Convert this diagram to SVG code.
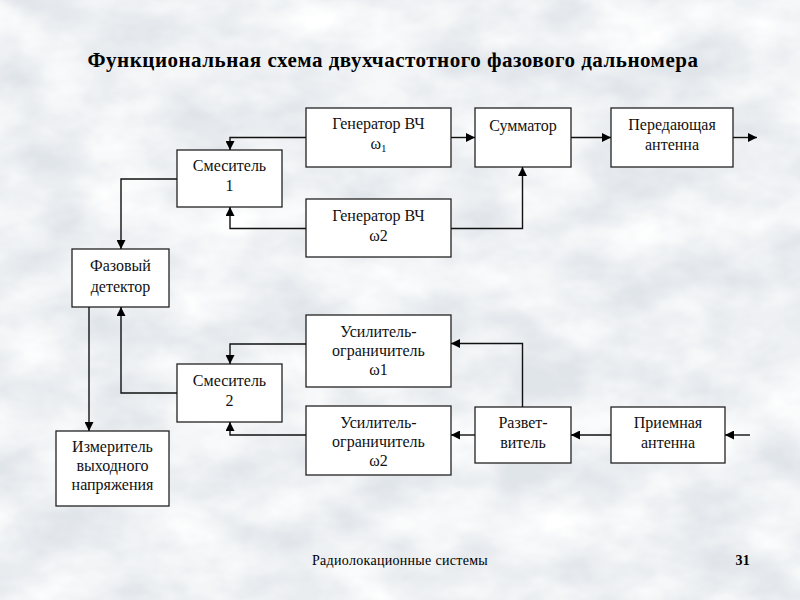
<svg xmlns="http://www.w3.org/2000/svg" width="800" height="600" viewBox="0 0 800 600" font-family="Liberation Serif, DejaVu Serif, serif">
<defs>
<filter id="clouds" x="0" y="0" width="100%" height="100%">
<feTurbulence type="fractalNoise" baseFrequency="0.012 0.02" numOctaves="4" seed="7" result="n"/>
<feColorMatrix in="n" type="matrix" values="0 0 0 0 1  0 0 0 0 1  0 0 0 0 1  0 0 0 -1.6 1.25" result="w"/>
<feComposite in="w" in2="SourceGraphic" operator="over"/>
</filter>
<marker id="arr" viewBox="0 0 10 10" refX="10" refY="5" markerWidth="9" markerHeight="9" markerUnits="userSpaceOnUse" orient="auto">
<path d="M0,0 L10,5 L0,10 z" fill="#000"/>
</marker>
<style>
.box{fill:#fff;stroke:#222;stroke-width:1.3}
.t{font-size:16px;fill:#111;text-anchor:middle}
.c{fill:none;stroke:#111;stroke-width:1.4;marker-end:url(#arr)}
.f{font-size:14px;fill:#000;letter-spacing:0.3px}
.title{font-size:21px;font-weight:bold;fill:#000;text-anchor:middle;letter-spacing:0.5px}
</style>
</defs>
<rect x="0" y="0" width="800" height="600" fill="#e0e5ea" filter="url(#clouds)"/>
<text class="title" x="393" y="67">Функциональная схема двухчастотного фазового дальномера</text>

<g id="gen1"><rect class="box" x="306" y="108" width="145" height="59"/><text class="t" x="378.5" y="129">Генератор ВЧ</text><text class="t" x="378.5" y="149">ω<tspan font-size="11" dy="3">1</tspan></text></g>
<g id="mix1"><rect class="box" x="177" y="150" width="105" height="57"/><text class="t" x="229.5" y="171">Смеситель</text><text class="t" x="229.5" y="191">1</text></g>
<g id="gen2"><rect class="box" x="306" y="199" width="145" height="58"/><text class="t" x="378.5" y="221">Генератор ВЧ</text><text class="t" x="378.5" y="241">ω2</text></g>
<g id="sum"><rect class="box" x="475" y="108" width="96" height="59"/><text class="t" x="523" y="131">Сумматор</text></g>
<g id="tx"><rect class="box" x="611" y="108" width="122" height="59"/><text class="t" x="672" y="130">Передающая</text><text class="t" x="672" y="150">антенна</text></g>
<g id="pd"><rect class="box" x="72" y="249" width="97" height="58"/><text class="t" x="120.5" y="271">Фазовый</text><text class="t" x="120.5" y="292">детектор</text></g>
<g id="amp1"><rect class="box" x="306" y="315" width="145" height="72"/><text class="t" x="378.5" y="337">Усилитель-</text><text class="t" x="378.5" y="356">ограничитель</text><text class="t" x="378.5" y="375">ω1</text></g>
<g id="mix2"><rect class="box" x="177" y="364" width="105" height="58"/><text class="t" x="229.5" y="386">Смеситель</text><text class="t" x="229.5" y="406">2</text></g>
<g id="amp2"><rect class="box" x="306" y="406" width="145" height="69"/><text class="t" x="378.5" y="428">Усилитель-</text><text class="t" x="378.5" y="447">ограничитель</text><text class="t" x="378.5" y="466">ω2</text></g>
<g id="split"><rect class="box" x="475" y="407" width="96" height="56"/><text class="t" x="523" y="428">Развет-</text><text class="t" x="523" y="448">витель</text></g>
<g id="rx"><rect class="box" x="611" y="407" width="114" height="56"/><text class="t" x="668" y="428">Приемная</text><text class="t" x="668" y="448">антенна</text></g>
<g id="meter"><rect class="box" x="56" y="431" width="113" height="75"/><text class="t" x="112.5" y="452">Измеритель</text><text class="t" x="112.5" y="471">выходного</text><text class="t" x="112.5" y="490">напряжения</text></g>

<g id="connectors">
<path class="c" d="M306,137.5 H230 V150"/>
<path class="c" d="M306,228.5 H230 V207"/>
<path class="c" d="M177,179 H121 V249"/>
<path class="c" d="M451,137.5 H475"/>
<path class="c" d="M571,137.5 H611"/>
<path class="c" d="M733,137.5 H757"/>
<path class="c" d="M451,228.5 H522.5 V167"/>
<path class="c" d="M89,307 V431"/>
<path class="c" d="M177,393 H121 V307"/>
<path class="c" d="M306,344 H230 V364"/>
<path class="c" d="M306,435 H230 V422"/>
<path class="c" d="M522.5,407 V343.5 H451"/>
<path class="c" d="M475,435 H451"/>
<path class="c" d="M611,435 H571"/>
<path class="c" d="M750,435 H725"/>
</g>

<text class="f" x="400" y="565" text-anchor="middle">Радиолокационные системы</text>
<text class="f" x="750" y="565" text-anchor="end" font-weight="bold">31</text>
</svg>
